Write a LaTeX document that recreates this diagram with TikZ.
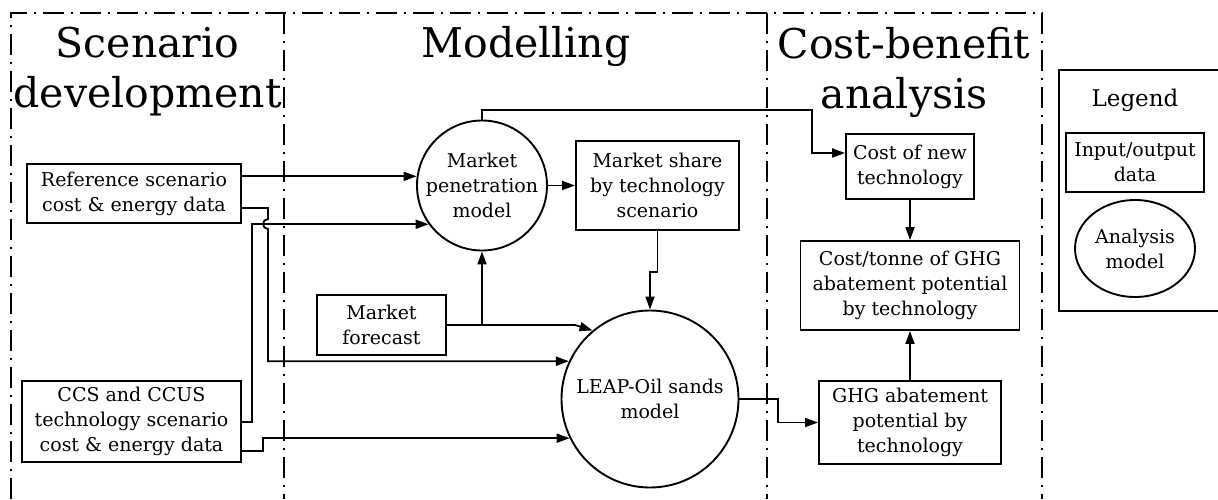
\documentclass[tikz,border=0pt]{standalone}
\usepackage{fontspec}
\setmainfont{DejaVu Serif}
\usetikzlibrary{arrows.meta,shapes.geometric}
\newcommand\mybody{\fontsize{19}{25}\selectfont}
\newcommand\mytitle{\fontsize{41}{50}\selectfont}
\newcommand\mylegend{\fontsize{23}{25}\selectfont}
\begin{document}
\begin{tikzpicture}[x=1pt,y=-1pt,
  box/.style={draw,line width=1.9pt,inner sep=0pt,align=center,font=\mybody},
  model/.style={draw,circle,line width=1.9pt,inner sep=0pt,align=center,font=\mybody},
  ttl/.style={inner sep=0pt,align=center,font=\mytitle},
  conn/.style={line width=1.8pt},
  arr/.style={conn,-{Triangle[length=13pt,width=9pt]}},
  frame/.style={line width=1.6pt,dash pattern=on 21pt off 7pt on 2pt off 7pt}]
\clip (0,0) rectangle (1218,499);
% frame
\draw[frame] (11,499) -- (11,13) -- (1042,13) -- (1042,499);
\draw[frame] (284,13) -- (284,499);
\draw[frame] (767,13) -- (767,499);
% titles
\node[ttl] (t1) at (147.5,72) {Scenario\\development};
\node[ttl,anchor=base] (t2) at (526,57) {Modelling};
\node[ttl] (t3) at (904,72) {Cost-benefit\\analysis};
% nodes
\node[box,minimum width=214pt,minimum height=59pt] (ref) at (134,193.5) {Reference scenario\\cost \& energy data};
\node[box,minimum width=219pt,minimum height=81pt] (ccs) at (131.5,421.5) {CCS and CCUS\\technology scenario\\cost \& energy data};
\node[box,minimum width=129pt,minimum height=60pt] (mf) at (381.5,325) {Market\\forecast};
\node[model,minimum size=130pt] (mp) at (482,185.5) {Market\\penetration\\model};
\node[box,minimum width=163pt,minimum height=89pt] (ms) at (657.5,185.5) {Market share\\by technology\\scenario};
\node[model,minimum size=177pt] (leap) at (650,399) {LEAP-Oil sands\\model};
\node[box,minimum width=128pt,minimum height=65pt] (cnt) at (910,166.5) {Cost of new\\technology};
\node[box,minimum width=219pt,minimum height=89pt] (ctn) at (910,285.5) {Cost/tonne of GHG\\abatement potential\\by technology};
\node[box,minimum width=182pt,minimum height=83pt] (ghg) at (910,422.5) {GHG abatement\\potential by\\technology};
% legend
\draw[line width=1.9pt] (1218,70) -- (1059,70) -- (1059,311) -- (1218,311);
\node[inner sep=0pt,font=\mylegend] (lgt) at (1135,100) {Legend};
\node[box,minimum width=138pt,minimum height=59pt] (lio) at (1135,162.5) {Input/output\\data};
\node[box,ellipse,minimum width=120pt,minimum height=97pt] (lam) at (1135,248.5) {Analysis\\model};
% connectors
\draw[arr] (ref.east |- mp.172.5) -- (mp.172.5);
\draw[arr] (ref.east |- 0,208) -- (268,208) -- (268,219)
   arc[start angle=90,end angle=270,radius=5pt] -- (268,0 |- leap.155.1) -- (leap.155.1);
\draw[arr] (ccs.east |- 0,422) -- (252,422) -- (252,0 |- mp.216.3) -- (mp.216.3);
\draw[arr] (ccs.east |- 0,451) -- (263,451) -- (263,0 |- leap.206.3) -- (leap.206.3);
\draw[arr] (mf.east) -- (575,0 |- mf.east) -- (leap.130);
\draw[arr] (mp.south |- mf.east) -- (mp.south);
\draw[arr] (mp.east) -- (ms.west);
\draw[arr] (ms.south) -- ++(0,41) -| (leap.north);
\draw[arr] (mp.north) |- (812,110) |- (cnt.west |- 0,153);
\draw[arr] (cnt.south) -- (ctn.north);
\draw[arr] (ghg.north) -- (ctn.south);
\draw[arr] (leap.east) -- (778,0 |- leap.east) |- (ghg.west);
\end{tikzpicture}
\end{document}
